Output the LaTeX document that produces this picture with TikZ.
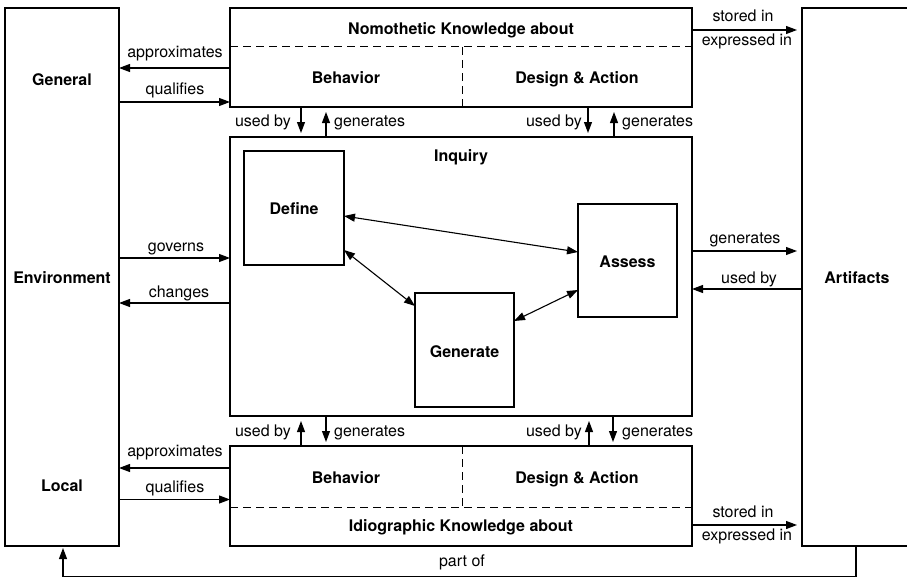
\documentclass[tikz,border=0pt]{standalone}
\usepackage{fontspec}
\setmainfont{TeX Gyre Heros}
\usetikzlibrary{arrows.meta}

\begin{document}
\begin{tikzpicture}[x=1pt,y=-1pt,
  every node/.style={font=\fontsize{16}{19}\selectfont},
  box/.style={draw, line width=1.1pt, inner sep=0pt, outer sep=0pt},
  arr/.style={line width=1.1pt, -{Triangle[length=11pt,width=8pt]}},
  dbl/.style={line width=1.1pt, {Triangle[length=11pt,width=8pt]}-{Triangle[length=11pt,width=8pt]}},
  divider/.style={line width=1pt, dash pattern=on 8pt off 5pt},
  txt/.style={anchor=base, inner sep=0pt},
  head/.style={txt, font=\fontsize{16}{19}\selectfont\bfseries},
]
\useasboundingbox (0,0) rectangle (907,578);

% outer columns
\node[box, minimum width=114pt, minimum height=538pt] (env) at (62,277) {};
\node[box, minimum width=110pt, minimum height=538pt] (art) at (857,277) {};

% knowledge boxes and inquiry
\node[box, minimum width=462pt, minimum height=99pt]  (nomo) at (461,57.5) {};
\node[box, minimum width=462pt, minimum height=279pt] (inq)  at (461,276.5) {};
\node[box, minimum width=462pt, minimum height=100pt] (idio) at (461,496) {};

% inquiry steps
\node[box, minimum width=100pt, minimum height=114pt] (define)   at (294,208) {};
\node[box, minimum width=99pt,  minimum height=113pt] (assess)   at (627.5,260.5) {};
\node[box, minimum width=99pt,  minimum height=114pt] (generate) at (464.5,350) {};

% dashed subdivisions
\draw[divider] (nomo.west |- 0,47) -- (nomo.east |- 0,47);
\draw[divider] (462,47) -- (nomo.south -| 462,0);
\draw[divider] (idio.west |- 0,507) -- (idio.east |- 0,507);
\draw[divider] (idio.north -| 462,0) -- (462,507);

% box titles
\node[head] (tGeneral) at (62,85.5) {General};
\node[head] (tEnv)     at (62,283.5) {Environment};
\node[head] (tLocal)   at (62,491) {Local};
\node[head] (tArt)     at (857,283.5) {Artifacts};
\node[head] (tNomo)    at (461,35) {Nomothetic Knowledge about};
\node[head] (tBehA)    at (346,83) {Behavior};
\node[head] (tDesA)    at (577,83) {Design \& Action};
\node[head] (tInq)     at (461,161) {Inquiry};
\node[head] (tDefine)  at (294,214) {Define};
\node[head] (tAssess)  at (627.5,267.5) {Assess};
\node[head] (tGen)     at (464.5,357) {Generate};
\node[head] (tBehB)    at (346,483) {Behavior};
\node[head] (tDesB)    at (577,483) {Design \& Action};
\node[head] (tIdio)    at (461,531) {Idiographic Knowledge about};

% environment <-> knowledge / inquiry
\draw[arr] (nomo.west |- 0,68) -- (env.east |- 0,68);
\node[txt] (lApxA) at (175,58) {approximates};
\draw[arr] (env.east |- 0,102) -- (nomo.west |- 0,102);
\node[txt] (lQuaA) at (175,94) {qualifies};
\draw[arr] (env.east |- 0,258) -- (inq.west |- 0,258);
\node[txt] (lGov) at (176,251) {governs};
\draw[arr] (inq.west |- 0,303) -- (env.east |- 0,303);
\node[txt] (lChg) at (179,297) {changes};
\draw[arr] (idio.west |- 0,468) -- (env.east |- 0,468);
\node[txt] (lApxB) at (175,456) {approximates};
\draw[arr] (env.east |- 0,499.5) -- (idio.west |- 0,499.5);
\node[txt] (lQuaB) at (175,492.5) {qualifies};

% knowledge / inquiry <-> artifacts
\draw[arr, shorten >=5pt] (nomo.east |- 0,30) -- (art.west |- 0,30);
\node[txt] (lStA) at (743,22) {stored in};
\node[txt] (lExA) at (747,46) {expressed in};
\draw[arr, shorten >=5pt] (inq.east |- 0,251) -- (art.west |- 0,251);
\node[txt] (lGenR) at (745,243) {generates};
\draw[arr] (art.west |- 0,289) -- (inq.east |- 0,289);
\node[txt] (lUseR) at (749,283) {used by};
\draw[arr, shorten >=5pt] (idio.east |- 0,525) -- (art.west |- 0,525);
\node[txt] (lStB) at (743,517) {stored in};
\node[txt] (lExB) at (747,540) {expressed in};

% knowledge <-> inquiry
\draw[arr, shorten >=4pt] (nomo.south -| 301,0) -- (inq.north -| 301,0);
\draw[arr, shorten >=5pt] (inq.north -| 326,0) -- (nomo.south -| 326,0);
\draw[arr, shorten >=4pt] (nomo.south -| 588,0) -- (inq.north -| 588,0);
\draw[arr, shorten >=5pt] (inq.north -| 614,0) -- (nomo.south -| 614,0);
\node[txt, anchor=base east] (lUseA1) at (291,126) {used by};
\node[txt, anchor=base west] (lGenA1) at (334,126) {generates};
\node[txt, anchor=base east] (lUseA2) at (582,126) {used by};
\node[txt, anchor=base west] (lGenA2) at (622,126) {generates};

\draw[arr, shorten >=5pt] (idio.north -| 301,0) -- (inq.south -| 301,0);
\draw[arr, shorten >=4pt] (inq.south -| 326,0) -- (idio.north -| 326,0);
\draw[arr, shorten >=5pt] (idio.north -| 589,0) -- (inq.south -| 589,0);
\draw[arr, shorten >=4pt] (inq.south -| 613,0) -- (idio.north -| 613,0);
\node[txt, anchor=base east] (lUseB1) at (291,436) {used by};
\node[txt, anchor=base west] (lGenB1) at (334,436) {generates};
\node[txt, anchor=base east] (lUseB2) at (582,436) {used by};
\node[txt, anchor=base west] (lGenB2) at (622,436) {generates};

% inquiry cycle
\draw[dbl] (define.east |- 0,216) -- (assess.west |- 0,252);
\draw[dbl] (define.east |- 0,250) -- (generate.west |- 0,306);
\draw[dbl] (generate.east |- 0,321) -- (assess.west |- 0,290);

% artifacts are part of the environment
\draw[arr, shorten >=2pt] (art.south -| 856,0) -- (856,576.8) -- (63,576.8) -- (env.south -| 63,0);
\node[txt] (lPart) at (462,566) {part of};
\end{tikzpicture}
\end{document}
